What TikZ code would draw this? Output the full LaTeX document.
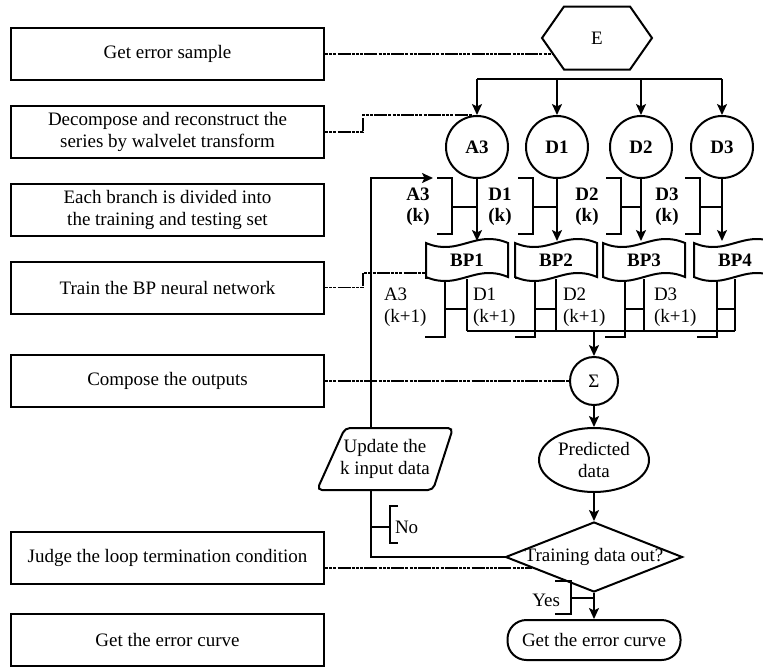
\documentclass[tikz,border=0pt]{standalone}
\usepackage{fontspec}
\setmainfont{Liberation Serif}
\usetikzlibrary{shapes.geometric,arrows.meta,calc}
\begin{document}
\begin{tikzpicture}[x=1pt,y=-1pt,
  line width=2pt,
  every node/.style={font=\fontsize{19}{22}\selectfont, align=center, inner sep=0pt},
  stepbox/.style={draw, minimum width=313, minimum height=52},
  circnode/.style={circle, draw, minimum size=62, font=\fontsize{19}{22}\selectfont\bfseries},
  bplabel/.style={minimum width=82, minimum height=36, font=\fontsize{19}{22}\selectfont\bfseries},
  tag/.style={font=\fontsize{19}{21}\selectfont\bfseries},
  arr/.style={-{Stealth[length=11pt,width=10pt,inset=2.5pt]}},
  dsh/.style={line width=1.8pt, dash pattern=on 3pt off 1.2pt on 3pt off 1.2pt on 3pt off 1.2pt on 13pt off 1.2pt},
]
\useasboundingbox (0,0) rectangle (763,667);
\clip (0,0) rectangle (763,667);

% ---- step descriptions (left column)
\node[stepbox] (b1) at (167.5,54)    {Get error sample};
\node[stepbox] (b2) at (167.5,132)   {Decompose and reconstruct the\\series by walvelet transform};
\node[stepbox] (b3) at (167.5,209.5) {Each branch is divided into\\the training and testing set};
\node[stepbox] (b4) at (167.5,287.5) {Train the BP neural network};
\node[stepbox] (b5) at (167.5,381)   {Compose the outputs};
\node[stepbox] (b6) at (167.5,557.5) {Judge the loop termination condition};
\node[stepbox] (b7) at (167.5,640)   {Get the error curve};

% ---- error sample (hexagon)
\node[minimum width=108, minimum height=61] (E) at (597,38) {E};
\draw (E.west) -- ([xshift=22pt]E.north west) -- ([xshift=-22pt]E.north east)
  -- (E.east) -- ([xshift=-22pt]E.south east) -- ([xshift=22pt]E.south west) -- cycle;

% ---- wavelet branches
\node[circnode] (A3) at (477,147) {A3};
\node[circnode] (D1) at (557,147) {D1};
\node[circnode] (D2) at (641,147) {D2};
\node[circnode] (D3) at (722,147) {D3};

\coordinate (busy) at (0,79);
\draw (A3 |- busy) -- (D3 |- busy);
\foreach \c in {A3,D1,D2,D3} \draw[arr] (\c |- busy) -- (\c.north);

% ---- input brackets (k)
\foreach \v/\a/\t/\lab in {452/477/418/A3, 533/557/500/D1, 621/641/587/D2, 700/722/667/D3}{
  \draw ({\v-15},178) -- (\v,178) -- (\v,234) -- ({\v-15},234);
  \draw (\v,207) -- (\a,207);
  \node[tag] (kt\lab) at (\t,207) {\lab\\(k)};
}

% ---- output brackets (k+1)
\foreach \v/\o/\l/\lab in {445/467/383/A3, 535/556/472/D1, 625/644/562/D2, 717/735/653/D3}{
  \draw ({\v-20},278) -- (\v,278) -- (\v,337) -- ({\v-20},337);
  \draw (\v,309) -- (\o,309);
  \node[anchor=west, align=left] (kn\lab) at (\l,307) {\lab\\(k+1)};
}

% ---- BP networks (document shapes)
\foreach \n/\x in {1/467,2/556,3/644,4/735}{
  \draw[fill=white] ({\x-41},243) .. controls ({\x-8},257) and ({\x+8},229) .. ({\x+41},243)
    -- ({\x+41},277) .. controls ({\x+8},263) and ({\x-8},291) .. ({\x-41},277) -- cycle;
  \node[bplabel] (BP\n) at (\x,260) {BP\n};
}
\foreach \c/\b in {A3/1,D1/2,D2/3,D3/4} \draw[arr] (\c.south) -- (\c.south |- BP\b.north);

% ---- composition
\coordinate (busb) at (0,331);
\foreach \b in {1,2,3,4} \draw (BP\b.south) -- (BP\b.south |- busb);
\draw (BP1.south |- busb) -- (BP4.south |- busb);

\node[circle, draw, minimum size=48] (S) at (594,381) {Σ};
\node[ellipse, draw, minimum width=110, minimum height=64] (pd) at (594,460) {Predicted\\data};
\node[diamond, draw, minimum width=177, minimum height=70] (dec) at (594,557) {};
\node (dectxt) at (dec.center) {Training data out?};
\node[draw, rounded corners=19pt, minimum width=173, minimum height=40] (gec) at (594,640) {Get the error curve};

\draw[arr] (S |- busb) -- (S.north);
\draw[arr] (S.south) -- (pd.north);
\draw[arr] (pd.south) -- (dec.north);
\draw[arr] (dec.south) -- (gec.north);

% ---- feedback loop
\node[minimum width=110, minimum height=62] (upd) at (385,459) {Update the\\k input data};
\draw[rounded corners=5pt] (317,490) -- (345,428) -- (453,428) -- (433,490) -- cycle;
\coordinate (lx) at (371,0);
\coordinate (loopend) at (433,178);
\draw (dec.west) -- (dec.west -| lx) -- (lx |- upd.south);
\draw[arr] (lx |- upd.north) -- (lx |- loopend) -- (loopend);

% ---- Yes / No annotations
\draw (371,527) -- (390,527);
\draw (398,506) -- (390,506) -- (390,543) -- (398,543);
\node[anchor=west] (nol) at (394,527) {No};
\draw (555,581) -- (571,581) -- (571,614) -- (555,614);
\draw (571,598) -- (594,598);
\node[anchor=east] (yesl) at (561,600) {Yes};

% ---- links from step descriptions
\coordinate (hexpt) at ($(E.west)!0.5!([xshift=22pt]E.south west)$);
\draw[dsh] (b1.east) -- (b1.east -| hexpt);
\draw[dsh] (b2.east) -- ++(38,0) |- ([xshift=-5pt]A3.north);
\draw[dsh] (b4.east) -- ++(38,0) |- ([yshift=-13pt]BP1.west);
\draw[dsh] (b5.east) -- (S.west);
\coordinate (dpt) at ($(dec.west)!0.31!(dec.south)$);
\draw[dsh] (dpt -| b6.east) -- (dpt);
\end{tikzpicture}
\end{document}
